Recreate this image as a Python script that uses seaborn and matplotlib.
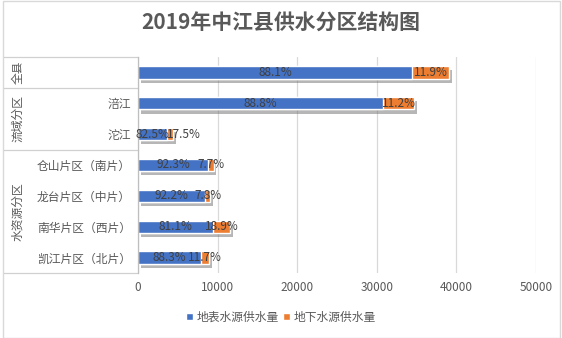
import matplotlib
matplotlib.use("Agg")
import matplotlib.pyplot as plt
import matplotlib.patheffects as pe
import matplotlib.transforms as mtransforms
from matplotlib.patches import Rectangle, Patch
import seaborn as sns
import pandas as pd

# ---- data ----
rows = ["全县", "涪江", "沱江", "仓山片区（南片）", "龙台片区（中片）", "南华片区（西片）", "凯江片区（北片）"]
row_labels = ["", "涪江", "沱江", "仓山片区（南片）", "龙台片区（中片）", "南华片区（西片）", "凯江片区（北片）"]
group_names = ["全县", "流域分区", "水资源分区"]
group_sizes = [1, 2, 4]
surface = [34450, 30810, 3630, 8770, 8390, 9410, 7860]
ground = [4650, 3890, 770, 730, 710, 2190, 1040]
surface_pct = ["88.1%", "88.8%", "82.5%", "92.3%", "92.2%", "81.1%", "88.3%"]
ground_pct = ["11.9%", "11.2%", "17.5%", "7.7%", "7.8%", "18.9%", "11.7%"]
xticks = [0, 10000, 20000, 30000, 40000, 50000]
series_names = ["地表水源供水量", "地下水源供水量"]
title = "2019年中江县供水分区结构图"

BLUE = "#4472C4"
ORANGE = "#ED7D31"
GRAY_TXT = "#595959"
LINE = "#d9d9d9"

sns.set_style("white")
plt.rcParams["font.family"] = ["Noto Sans CJK SC", "DejaVu Sans"]

df = pd.DataFrame({"row": rows, "surface": surface, "ground": ground})
df["total"] = df["surface"] + df["ground"]

fig = plt.figure(figsize=(5.62, 3.38), dpi=100)
ax = fig.add_axes([138 / 562, 1 - 273 / 338, 398 / 562, 216 / 338])

sns.barplot(data=df, x="total", y="row", order=rows, color=ORANGE, saturation=1,
            width=0.4, orient="h", ax=ax)
n_first = len(ax.patches)
for p in ax.patches[:n_first]:
    p.set_path_effects([pe.SimplePatchShadow(offset=(2, -3), shadow_rgbFace="#6f6f6f", alpha=0.5),
                        pe.Normal()])
sns.barplot(data=df, x="surface", y="row", order=rows, color=BLUE, saturation=1,
            width=0.4, orient="h", ax=ax)

ax.set_xlim(0, 50000)
ax.set_ylim(len(rows) - 0.5, -0.5)

s_texts, g_texts = [], []
for i, (s, g) in enumerate(zip(surface, ground)):
    s_texts.append(ax.text(s / 2, i, surface_pct[i], ha="center", va="center",
                           fontsize=8.5, color="#404040"))
    g_texts.append(ax.text(s + g / 2, i, ground_pct[i], ha="center", va="center",
                           fontsize=8.5, color="#404040"))

ax.set_xticks(xticks)
ax.set_xticklabels([str(t) for t in xticks], fontsize=8.5, color=GRAY_TXT)
ax.set_yticks(range(len(rows)))
ax.set_yticklabels(row_labels, fontsize=8.5, color=GRAY_TXT)
ax.tick_params(axis="both", length=0)
ax.tick_params(axis="y", pad=5)
ax.tick_params(axis="x", pad=6)
ax.set_xlabel("")
ax.set_ylabel("")
ax.grid(axis="x", color=LINE, lw=0.9)
ax.grid(axis="y", visible=False)
ax.set_axisbelow(True)
for side in ["top", "right", "bottom"]:
    ax.spines[side].set_visible(False)
ax.spines["left"].set_color("#bfbfbf")
ax.spines["left"].set_linewidth(0.9)

# nudge overlapping ground labels to the right (like Excel does)
fig.canvas.draw()
renderer = fig.canvas.get_renderer()
inv = ax.transData.inverted()
for st, gt in zip(s_texts, g_texts):
    sb = st.get_window_extent(renderer)
    gb = gt.get_window_extent(renderer)
    overlap = sb.x1 - gb.x0 - 2
    if overlap > 0:
        x_disp = ax.transData.transform((gt.get_position()[0], 0))[0] + overlap
        gt.set_x(inv.transform((x_disp, 0))[0])

# multi-level category table
trans = mtransforms.blended_transform_factory(ax.transAxes, ax.transData)
x_left = (3 - 138) / 398
start = -0.5
bounds = [start]
for name, size in zip(group_names, group_sizes):
    center = start + size / 2
    ax.text((18 - 138) / 398, center, name, transform=trans, rotation=90,
            ha="center", va="center", fontsize=8.5, color=GRAY_TXT, clip_on=False)
    start += size
    bounds.append(start)
for b in bounds:
    ax.plot([x_left, 0], [b, b], transform=trans, color="#d0d0d0", lw=0.9, clip_on=False)

# title
fig.text(0.5, 1 - 23 / 338, title, ha="center", va="center", fontsize=15,
         fontweight="bold", color=GRAY_TXT)

# legend
handles = [Patch(facecolor=BLUE), Patch(facecolor=ORANGE)]
leg = fig.legend(handles, series_names, loc="center", bbox_to_anchor=(0.5, 1 - 317 / 338),
                 ncol=2, frameon=False, fontsize=8.5, handlelength=0.6, handleheight=0.6,
                 handletextpad=0.3, columnspacing=0.4)
for t in leg.get_texts():
    t.set_color(GRAY_TXT)

# chart border
fig.patches.append(Rectangle((2.5 / 562, 0.5 / 338), 557.5 / 562, 336.5 / 338,
                             transform=fig.transFigure, fill=False, edgecolor="#d9d9d9", lw=1))

fig.savefig("out.png", dpi=100)
